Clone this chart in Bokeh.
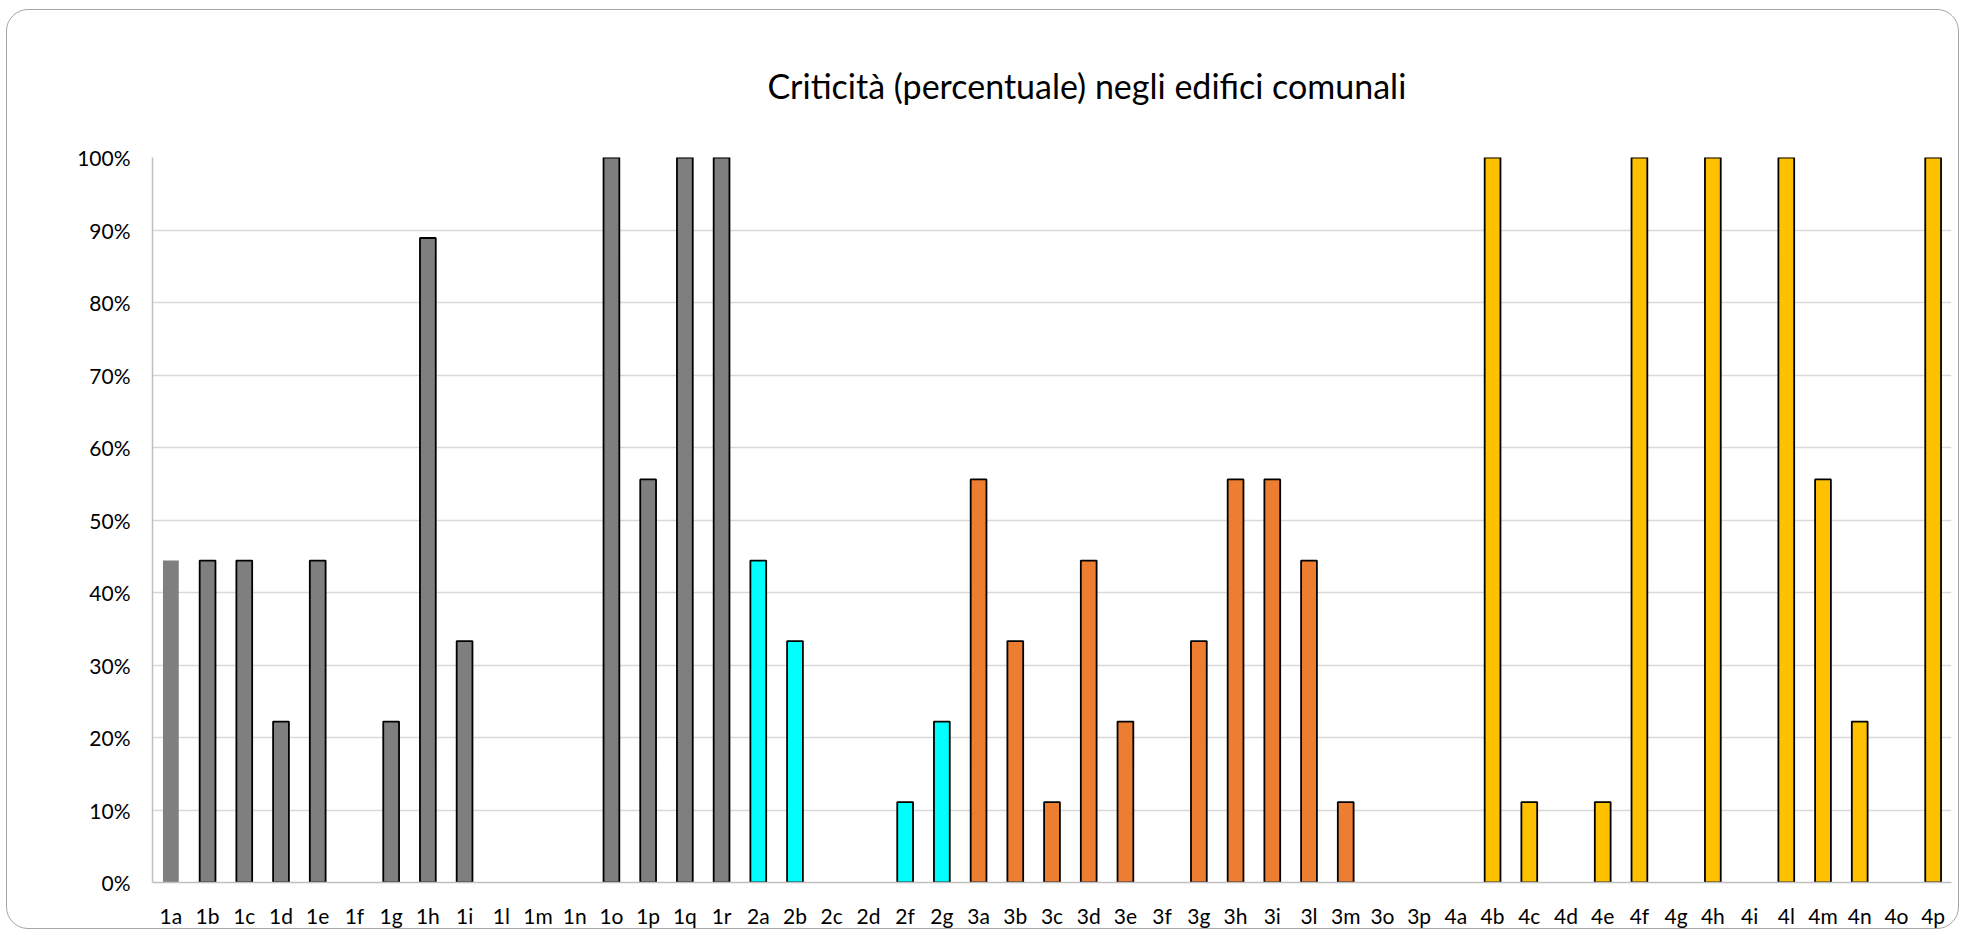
from bokeh.plotting import figure
from bokeh.models import ColumnDataSource, FactorRange, Range1d, NumeralTickFormatter, FixedTicker, Title
from bokeh.embed import file_html
from bokeh.resources import INLINE

categories = ["1a", "1b", "1c", "1d", "1e", "1f", "1g", "1h", "1i", "1l", "1m", "1n", "1o", "1p", "1q", "1r",
              "2a", "2b", "2c", "2d", "2f", "2g",
              "3a", "3b", "3c", "3d", "3e", "3f", "3g", "3h", "3i", "3l", "3m", "3o", "3p",
              "4a", "4b", "4c", "4d", "4e", "4f", "4g", "4h", "4i", "4l", "4m", "4n", "4o", "4p"]

values = [0.444, 0.444, 0.444, 0.222, 0.444, 0.0, 0.222, 0.889, 0.333, 0.0, 0.0, 0.0, 1.0, 0.556, 1.0, 1.0,
          0.444, 0.333, 0.0, 0.0, 0.111, 0.222,
          0.556, 0.333, 0.111, 0.444, 0.222, 0.0, 0.333, 0.556, 0.556, 0.444, 0.111, 0.0, 0.0,
          0.0, 1.0, 0.111, 0.0, 0.111, 1.0, 0.0, 1.0, 0.0, 1.0, 0.556, 0.222, 0.0, 1.0]

group_colors = {"1": "#7F7F7F", "2": "#00FFFF", "3": "#ED7D31", "4": "#FFC000"}
colors = [group_colors[c[0]] for c in categories]
outline = [None if (c == "1a" or v == 0) else "#000000" for c, v in zip(categories, values)]

y_ticks = [0, 0.1, 0.2, 0.3, 0.4, 0.5, 0.6, 0.7, 0.8, 0.9, 1.0]
title_text = "Criticità (percentuale) negli edifici comunali"

FONT = "Lato"

src = ColumnDataSource(dict(cat=categories, val=values, color=colors, line=outline))

p = figure(x_range=FactorRange(*categories, range_padding=0), y_range=Range1d(0, 1),
           width=1953, height=920, output_backend="svg", toolbar_location=None,
           min_border_left=145, min_border_right=9, min_border_top=147, min_border_bottom=46)

p.vbar(x="cat", top="val", width=0.43, source=src, fill_color="color", line_color="line", line_width=1.8)

p.border_fill_color = None
p.background_fill_color = "white"
p.outline_line_color = None
p.styles = {"border": "1.5px solid #A6A6A6", "border-radius": "22px", "overflow": "hidden",
            "margin": "9px 0px 0px 6px"}

p.yaxis.ticker = FixedTicker(ticks=y_ticks)
p.yaxis.formatter = NumeralTickFormatter(format="0%")
p.yaxis.major_tick_line_color = None
p.yaxis.major_tick_out = 0
p.yaxis.major_tick_in = 0
p.yaxis.minor_tick_line_color = None
p.yaxis.minor_tick_out = 0
p.yaxis.axis_line_color = "#BFBFBF"
p.yaxis.axis_line_width = 1.5
p.yaxis.major_label_standoff = 22
p.yaxis.major_label_text_font = FONT
p.yaxis.major_label_text_font_size = "21px"
p.yaxis.major_label_text_color = "#000000"

p.xaxis.major_tick_line_color = None
p.xaxis.major_tick_out = 0
p.xaxis.major_tick_in = 0
p.xaxis.axis_line_color = "#BFBFBF"
p.xaxis.axis_line_width = 1.5
p.xaxis.major_label_standoff = 20
p.xaxis.major_label_text_font = FONT
p.xaxis.major_label_text_font_size = "21px"
p.xaxis.major_label_text_color = "#000000"

p.xgrid.grid_line_color = None
p.ygrid.grid_line_color = "#D9D9D9"
p.ygrid.grid_line_width = 1.5

title = Title(text=title_text, align="left", offset=615, standoff=104,
              text_font=FONT, text_font_size="34px", text_font_style="normal", text_color="#000000")
p.add_layout(title, "above")

open("out.html", "w").write(file_html(p, INLINE))
